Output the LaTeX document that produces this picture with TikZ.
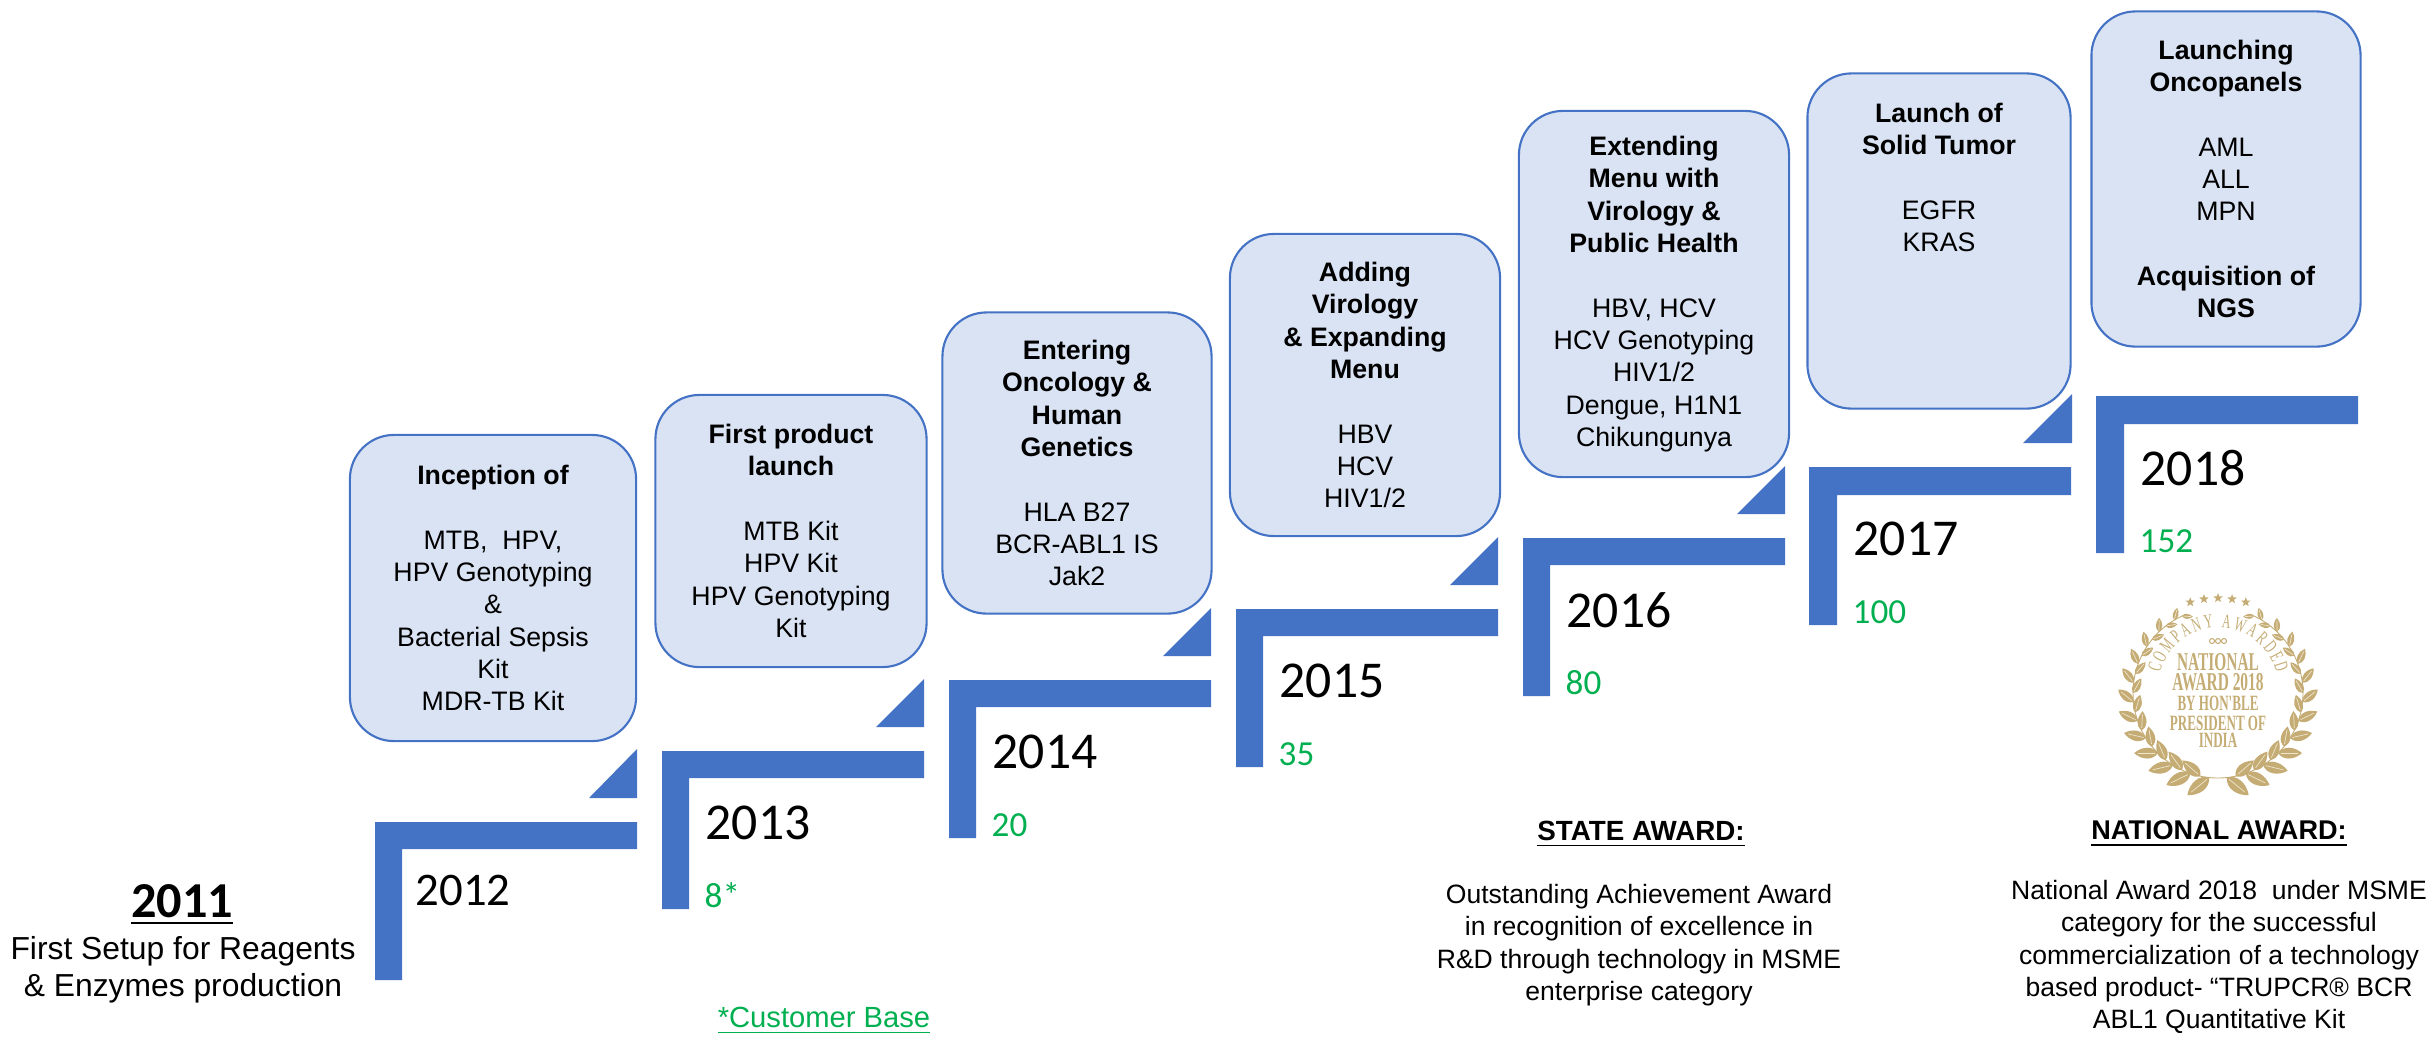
\documentclass[tikz,border=0pt]{standalone}
\usepackage{fontspec}
\setmainfont{Liberation Sans}
\newfontfamily\calibrifont{Carlito}
\newfontfamily\medalfont{Liberation Serif}[FakeStretch=0.6]
\usetikzlibrary{shapes.geometric,decorations.text}
\definecolor{stepblue}{HTML}{4472C4}
\definecolor{boxfill}{HTML}{DAE3F3}
\definecolor{basegreen}{HTML}{00B050}
\definecolor{gold}{HTML}{C4AC74}
\definecolor{paleleaf}{HTML}{EFE6CC}

\begin{document}
\begin{tikzpicture}[x=0.01cm, y=-0.01cm,
	milestone/.style={draw=stepblue, fill=boxfill, line width=0.6pt, rounded corners=0.44cm,
		align=center, inner sep=0pt, font=\fontsize{7.6}{9.2}\selectfont},
	plain/.style={align=center, inner sep=0pt, font=\fontsize{7.6}{9.2}\selectfont},
	year/.style={anchor=west, inner sep=0pt, font=\calibrifont\fontsize{14.7}{16}\selectfont},
	base/.style={anchor=west, inner sep=0pt, text=basegreen, font=\calibrifont\fontsize{10}{12}\selectfont},
	medaltext/.style={text=gold, inner sep=0pt, font=\medalfont\bfseries\fontsize{7.3}{8}\selectfont},
	medalsmall/.style={text=gold, inner sep=0pt, font=\medalfont\bfseries\fontsize{6.2}{7}\selectfont}]
\useasboundingbox (0,0) rectangle (2433,1038);

% steps
\fill[stepblue] (375,822) -- (637,822) -- (637,849) -- (402,849) -- (402,980) -- (375,980) -- cycle;
\fill[stepblue] (662,751) -- (924,751) -- (924,778) -- (689,778) -- (689,909) -- (662,909) -- cycle;
\fill[stepblue] (949,680) -- (1211,680) -- (1211,707) -- (976,707) -- (976,838) -- (949,838) -- cycle;
\fill[stepblue] (1236,609) -- (1498,609) -- (1498,636) -- (1263,636) -- (1263,767) -- (1236,767) -- cycle;
\fill[stepblue] (1523,538) -- (1785,538) -- (1785,565) -- (1550,565) -- (1550,696) -- (1523,696) -- cycle;
\fill[stepblue] (1809,467) -- (2071,467) -- (2071,495) -- (1837,495) -- (1837,625) -- (1809,625) -- cycle;
\fill[stepblue] (2096,396) -- (2358,396) -- (2358,424) -- (2124,424) -- (2124,553) -- (2096,553) -- cycle;

% pointers
\fill[stepblue] (637,749) -- (589,798) -- (637,798) -- cycle;
\fill[stepblue] (924,679) -- (876,727) -- (924,727) -- cycle;
\fill[stepblue] (1211,608) -- (1163,656) -- (1211,656) -- cycle;
\fill[stepblue] (1498,537) -- (1450,585) -- (1498,585) -- cycle;
\fill[stepblue] (1785,466) -- (1737,514) -- (1785,514) -- cycle;
\fill[stepblue] (2072,394) -- (2023,443) -- (2072,443) -- cycle;

\node[milestone, minimum width=2.86cm, minimum height=3.06cm] (inception) at (493,588)
	{\textbf{Inception of}\\[9.2pt]MTB,~ HPV,\\HPV Genotyping\\\&\\Bacterial Sepsis\\Kit\\MDR-TB Kit};
\node[milestone, minimum width=2.71cm, minimum height=2.72cm] (launch) at (791,531)
	{\textbf{First product}\\\textbf{launch}\\[9.2pt]MTB Kit\\HPV Kit\\HPV Genotyping\\Kit};
\node[milestone, minimum width=2.69cm, minimum height=3.01cm] (oncology) at (1077,463)
	{\textbf{Entering}\\\textbf{Oncology \&}\\\textbf{Human}\\\textbf{Genetics}\\[9.2pt]HLA B27\\BCR-ABL1 IS\\Jak2};
\node[milestone, minimum width=2.70cm, minimum height=3.02cm] (virology) at (1365,385)
	{\textbf{Adding}\\\textbf{Virology}\\\textbf{\& Expanding}\\\textbf{Menu}\\[9.2pt]HBV\\HCV\\HIV1/2};
\node[milestone, minimum width=2.70cm, minimum height=3.66cm] (menu) at (1654,294)
	{\textbf{Extending}\\\textbf{Menu with}\\\textbf{Virology \&}\\\textbf{Public Health}\\[9.2pt]HBV, HCV\\HCV Genotyping\\HIV1/2\\Dengue, H1N1\\Chikungunya};
\node[milestone, minimum width=2.63cm, minimum height=3.35cm] (tumor) at (1939,241)
	{\textbf{Launch of}\\\textbf{Solid Tumor}\\[9.2pt]EGFR\\KRAS\\[27pt]\mbox{}};
\node[milestone, minimum width=2.69cm, minimum height=3.35cm] (oncopanels) at (2226,179)
	{\textbf{Launching}\\\textbf{Oncopanels}\\[9.2pt]AML\\ALL\\MPN\\[9.2pt]\textbf{Acquisition of}\\\textbf{NGS}};

\node[year, font=\calibrifont\fontsize{13.3}{16}\selectfont] (y2012) at (415,890) {2012};
\node[year] (y2013) at (705,823) {2013};
\node[year] (y2014) at (992,752) {2014};
\node[year] (y2015) at (1279,681) {2015};
\node[year] (y2016) at (1566,610) {2016};
\node[year] (y2017) at (1853,539) {2017};
\node[year] (y2018) at (2140,468) {2018};

\node[base] (n2013) at (704,895) {8*};
\node[base] (n2014) at (991,825) {20};
\node[base] (n2015) at (1278,754) {35};
\node[base] (n2016) at (1565,683) {80};
\node[base] (n2017) at (1852,612) {100};
\node[base] (n2018) at (2139,541) {152};

\node[inner sep=0pt, font=\calibrifont\bfseries\fontsize{14.3}{16}\selectfont] (start) at (182,905) {\underline{2011}};
\node[plain, font=\fontsize{9.05}{10.6}\selectfont] (setup) at (183,970) {First Setup for Reagents\\\& Enzymes production};
\node[plain, text=basegreen, font=\fontsize{8.3}{10}\selectfont] (customer) at (824,1021) {\underline{*Customer Base}};

\node[plain, font=\fontsize{7.9}{9.2}\selectfont] (statehead) at (1641,834) {\textbf{\underline{STATE AWARD:}}};
\node[plain, font=\fontsize{7.55}{9.2}\selectfont] (statetext) at (1639,945) {Outstanding Achievement Award\\in recognition of excellence in\\R\&D through technology in MSME\\enterprise category};
\node[plain, font=\fontsize{7.7}{9.2}\selectfont] (nationalhead) at (2219,834) {\textbf{\underline{NATIONAL AWARD:}}};
\node[plain, font=\fontsize{7.55}{9.2}\selectfont] (nationaltext) at (2219,957) {National Award 2018~ under MSME\\category for the successful\\commercialization of a technology\\based product- “TRUPCR® BCR\\ABL1 Quantitative Kit};

% medal
\begin{scope}[shift={(2218,693)}, y=0.01cm]
\draw[gold, line width=0.25pt] (0,-85) arc[start angle=270, end angle=112, radius=85];
\draw[gold, line width=0.25pt] (0,-85) arc[start angle=-90, end angle=68, radius=85];
\foreach \s in {1,-1} {
	\begin{scope}[xscale=\s]
	\foreach \a in {264,251,238,225,212,199,186,173,160,147,134,121} {
		\pgfmathsetmacro\leafsize{0.45+0.55*(\a-121)/143}
		\fill[gold, shift={(\a:85)}, rotate=\a-45, scale=\leafsize] (0,0) .. controls (6,9) and (19,8) .. (28,0) .. controls (19,-8) and (6,-9) .. (0,0);
		\draw[paleleaf, line width=0.2pt, shift={(\a:85)}, rotate=\a-45, scale=\leafsize] (3,0) -- (23,0);
		\fill[gold, shift={(\a-6:85)}, rotate=\a-125, scale=\leafsize] (0,0) .. controls (5,8) and (15,7) .. (24,0) .. controls (15,-7) and (5,-8) .. (0,0);
		\draw[paleleaf, line width=0.2pt, shift={(\a-6:85)}, rotate=\a-125, scale=\leafsize] (3,0) -- (20,0);
	}
	\end{scope}
}
\foreach \a [count=\i] in {73,81.5,90,98.5,107} {
	\node[star, star points=5, star point ratio=2.4, fill=gold, inner sep=0pt, minimum size=0.1cm] (award\i) at (\a:95) {};
}
\path[decorate, decoration={text along path, text align={fit to path},
	text={|\medalfont\fontsize{5.6}{6}\selectfont\color{gold}|COMPANY AWARDED}}]
	(-58,20) arc[start angle=166, end angle=14, radius=60];
\draw[gold, line width=0.3pt] (0,52) circle (2.5) (-6,52) circle (2.5) (6,52) circle (2.5);
\node[medaltext] (medal1) at (0,31) {NATIONAL};
\node[medaltext] (medal2) at (0,11) {AWARD 2018};
\node[medalsmall] (medal3) at (0,-10) {BY HON'BLE};
\node[medalsmall] (medal4) at (0,-30) {PRESIDENT OF};
\node[medalsmall] (medal5) at (0,-47) {INDIA};
\end{scope}
\end{tikzpicture}
\end{document}
